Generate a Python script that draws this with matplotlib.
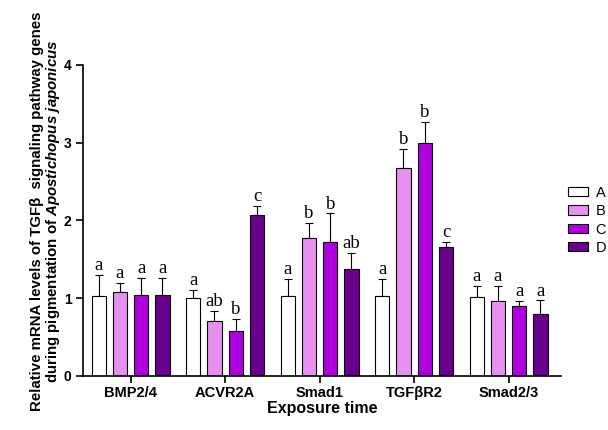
import matplotlib
matplotlib.use('Agg')
import matplotlib.pyplot as plt
import numpy as np

plt.rcParams['font.family'] = ['Liberation Sans', 'DejaVu Sans']
plt.rcParams['mathtext.fontset'] = 'custom'
plt.rcParams['mathtext.it'] = 'Liberation Sans:italic:bold'
plt.rcParams['mathtext.rm'] = 'Liberation Sans:bold'

genes = ['BMP2/4', 'ACVR2A', 'Smad1', 'TGFβR2', 'Smad2/3']
groups = ['A', 'B', 'C', 'D']
colors = ['white', '#e690f2', '#b000e0', '#6a008e']

vals_A = [1.03, 1.00, 1.03, 1.03, 1.02]
vals_B = [1.08, 0.71, 1.77, 2.67, 0.96]
vals_C = [1.04, 0.58, 1.72, 2.99, 0.90]
vals_D = [1.04, 2.07, 1.38, 1.66, 0.80]
err_A = [0.27, 0.11, 0.22, 0.22, 0.14]
err_B = [0.12, 0.13, 0.20, 0.25, 0.20]
err_C = [0.22, 0.15, 0.37, 0.28, 0.06]
err_D = [0.22, 0.12, 0.20, 0.06, 0.17]
lett_A = ['a', 'a', 'a', 'a', 'a']
lett_B = ['a', 'ab', 'b', 'b', 'a']
lett_C = ['a', 'b', 'b', 'b', 'a']
lett_D = ['a', 'c', 'ab', 'c', 'a']

vals = [vals_A, vals_B, vals_C, vals_D]
errs = [err_A, err_B, err_C, err_D]
letts = [lett_A, lett_B, lett_C, lett_D]

fig = plt.figure(figsize=(6.08, 4.3), dpi=100)
ax = fig.add_axes([0.137, 0.126, 0.785, 0.723])

x = np.arange(len(genes))
step = 0.225
width = 0.15
for i in range(4):
    pos = x + (i - 1.5) * step
    ax.bar(pos, vals[i], width, color=colors[i], edgecolor='black', linewidth=0.8,
           label=groups[i], zorder=2)
    ax.errorbar(pos, vals[i], yerr=[np.zeros(len(genes)), errs[i]], fmt='none',
                ecolor='black', elinewidth=0.8, capsize=3, capthick=0.8, zorder=1)
    for p, v, e, t in zip(pos, vals[i], errs[i], letts[i]):
        ax.text(p, v + e + 0.01, t, ha='center', va='bottom',
                family='Liberation Serif', fontsize=13.5)

ax.set_ylim(0, 4)
ax.set_xlim(-0.5, 4.55)
ax.set_yticks([0, 1, 2, 3, 4])
ax.set_xticks(x)
ax.set_xticklabels(genes, fontweight='bold', fontsize=10.5)
for lab in ax.get_yticklabels():
    lab.set_fontweight('bold')
    lab.set_fontsize(10)
ax.tick_params(direction='out', length=5, width=1.2)
ax.tick_params(axis='x', pad=2)
ax.spines['top'].set_visible(False)
ax.spines['right'].set_visible(False)
ax.spines['left'].set_linewidth(1.2)
ax.spines['bottom'].set_linewidth(1.2)

ax.set_xlabel('Exposure time', fontweight='bold', fontsize=11.5, labelpad=1)
ax.set_ylabel('Relative mRNA levels of TGFβ  signaling pathway genes\n'
              r'during pigmentation of $\mathit{Apostichopus\ japonicus}$',
              fontweight='bold', fontsize=10.8, labelpad=1, linespacing=1.0)
ax.yaxis.label.set_y(0.53)

ax.legend(loc='center left', bbox_to_anchor=(1.0, 0.5), frameon=False,
          fontsize=10.5, handlelength=1.4, handleheight=0.6, labelspacing=0.3,
          handletextpad=0.5, borderaxespad=0.1)

fig.savefig('out.png', dpi=100)
